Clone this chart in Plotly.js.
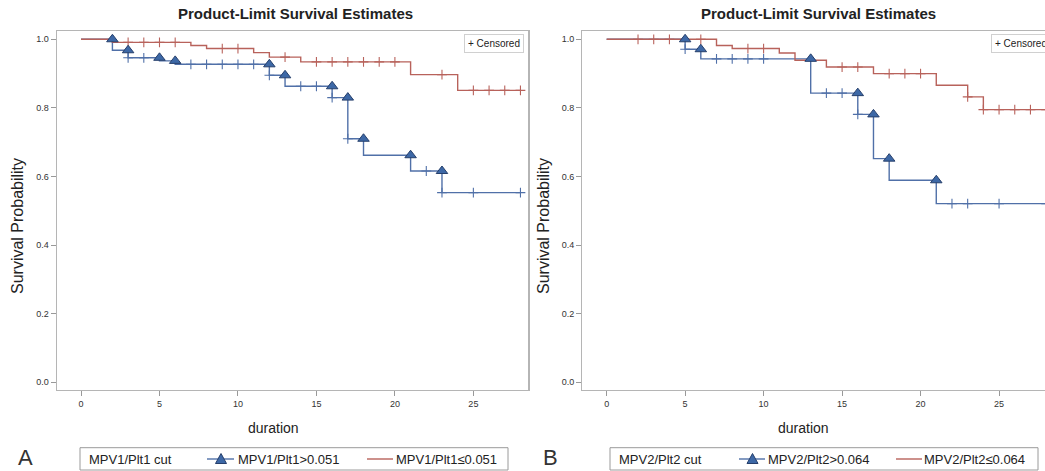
<!DOCTYPE html>
<html><head><meta charset="utf-8">
<script src="https://cdn.plot.ly/plotly-3.0.1.min.js"></script>
<style>html,body{margin:0;padding:0;overflow:hidden;background:#fff}#chart{width:1060px;height:471px}</style>
</head><body><div id="chart"></div>
<script>
// ---------- Panel A : MPV1/Plt1 ----------
const aHighTimes  = [0, 2, 3, 5, 6, 12, 13, 16, 17, 18, 21, 23];
const aHighSurv   = [1.0, 0.968, 0.946, 0.937, 0.927, 0.895, 0.863, 0.830, 0.710, 0.662, 0.616, 0.553];
const aHighCensor = [3, 4, 7, 8, 9, 10, 11, 12, 14, 15, 16, 17, 22, 23, 25, 28];
const aLowTimes   = [0, 2, 7, 8, 11, 12, 14, 21, 24];
const aLowSurv    = [1.0, 0.991, 0.982, 0.973, 0.961, 0.948, 0.934, 0.897, 0.851];
const aLowCensor  = [3, 4, 5, 6, 9, 10, 13, 15, 16, 17, 18, 19, 20, 23, 25, 26, 27, 28];
// ---------- Panel B : MPV2/Plt2 ----------
const bHighTimes  = [0, 5, 6, 13, 16, 17, 18, 21];
const bHighSurv   = [1.0, 0.971, 0.943, 0.843, 0.781, 0.652, 0.589, 0.521];
const bHighCensor = [5, 7, 8, 9, 10, 14, 15, 16, 22, 23, 25, 28];
const bLowTimes   = [0, 7, 8, 11, 12, 14, 17, 21, 23, 24];
const bLowSurv    = [1.0, 0.982, 0.973, 0.960, 0.939, 0.919, 0.900, 0.866, 0.832, 0.795];
const bLowCensor  = [2, 3, 4, 6, 9, 10, 15, 16, 18, 19, 20, 23, 24, 25, 26, 27, 28];
const followUpEnd = 28;

const panelTitle = 'Product-Limit Survival Estimates';
const yTitle = 'Survival Probability';
const xTitle = 'duration';
const aNames = ['MPV1/Plt1>0.051', 'MPV1/Plt1\u22640.051', 'MPV1/Plt1 cut'];
const bNames = ['MPV2/Plt2>0.064', 'MPV2/Plt2\u22640.064', 'MPV2/Plt2 cut'];

const BLUE = '#5070a8', RED = '#b8625b', TRI = '#3d68a6', TRIEDGE = '#263f6b';
const FONT = 'Liberation Sans, Arial, sans-serif';

function survAt(times, surv, t) {
  let v = surv[0];
  for (let i = 0; i < times.length; i++) if (times[i] <= t) v = surv[i];
  return v;
}
function curveTraces(times, surv, censor, color, xa, ya, withTri) {
  const out = [];
  out.push({x: times.concat([followUpEnd]), y: surv.concat([surv[surv.length-1]]),
    xaxis: xa, yaxis: ya, mode: 'lines', line: {color: color, width: 1.4, shape: 'hv'},
    showlegend: false, hoverinfo: 'skip'});
  out.push({x: censor, y: censor.map(t => survAt(times, surv, t)), xaxis: xa, yaxis: ya,
    mode: 'markers', marker: {symbol: 'cross-thin', size: 7, line: {color: color, width: 1.1}},
    showlegend: false, hoverinfo: 'skip'});
  if (withTri) {
    out.push({x: times.slice(1), y: surv.slice(0, -1), xaxis: xa, yaxis: ya, mode: 'markers',
      marker: {symbol: 'triangle-up', size: 10, color: TRI, line: {color: TRIEDGE, width: 1}},
      showlegend: false, hoverinfo: 'skip'});
  }
  return out;
}

const A1 = curveTraces(aHighTimes, aHighSurv, aHighCensor, BLUE, 'x', 'y', true);
const A2 = curveTraces(aLowTimes, aLowSurv, aLowCensor, RED, 'x', 'y', false);
const B1 = curveTraces(bHighTimes, bHighSurv, bHighCensor, BLUE, 'x2', 'y2', true);
const B2 = curveTraces(bLowTimes, bLowSurv, bLowCensor, RED, 'x2', 'y2', false);
const data = [A1[0], A2[0], A1[1], A2[1], A1[2], B1[0], B2[0], B1[1], B2[1], B1[2]];

const W = 1060, H = 471;
const px = v => v / W, py = v => 1 - v / H;
const yDom = [py(390), py(30.7)];
function xAxis(dom) {
  return {domain: dom, range: [-1.55, 28.5], tick0: 0, dtick: 5, ticks: 'outside', ticklen: 5,
    tickcolor: '#999', tickfont: {size: 9, color: '#333', family: FONT}, showgrid: false, zeroline: false,
    showline: true, mirror: true, linecolor: '#b5b5b5', linewidth: 1.2, fixedrange: true};
}
function yAxis(anchor) {
  return {domain: yDom, anchor: anchor, range: [-0.0224, 1.025], tick0: 0, dtick: 0.2, tickformat: '.1f',
    ticks: 'outside', ticklen: 5, tickcolor: '#999', tickfont: {size: 9, color: '#333', family: FONT},
    showgrid: false, zeroline: false, showline: true, mirror: true, linecolor: '#b5b5b5', linewidth: 1.2, fixedrange: true};
}
const ann = [], shapes = [];
function txt(text, x, y, opts) {
  return Object.assign({text: text, x: px(x), y: py(y), xref: 'paper', yref: 'paper', showarrow: false,
    xanchor: 'center', yanchor: 'middle'}, opts);
}
function panelAnn(titleX, yTitleX, xTitleX, censX, letter, letterX) {
  ann.push(txt(panelTitle, titleX, 14, {font: {size: 15, color: '#222', family: FONT, weight: 'bold'}}));
  ann.push(txt(yTitle, yTitleX, 226, {textangle: -90, font: {size: 16, color: '#222', family: FONT}}));
  ann.push(txt(xTitle, xTitleX, 428, {font: {size: 14, color: '#222', family: FONT}}));
  ann.push(txt('+ Censored', censX, 44, {xanchor: 'left', bgcolor: '#fff', bordercolor: '#d0d0d0',
    borderwidth: 1, borderpad: 3, font: {size: 10, color: '#222', family: FONT}}));
  ann.push(txt(letter, letterX, 457, {font: {size: 22, color: '#333', family: FONT}}));
}
// manual legend rows (decoration, positioned in page pixels)
function legendRow(o, names, lineA, triX, textA, lineB, textB) {
  const yc = 459;
  shapes.push({type: 'rect', xref: 'paper', yref: 'paper', x0: px(o + 80), x1: px(o + 508),
    y0: py(447.7), y1: py(470), line: {color: '#9a9a9a', width: 1}, fillcolor: '#fff', layer: 'above'});
  ann.push(txt(names[2], o + 87, yc, {xanchor: 'left', font: {size: 13, color: '#222', family: FONT}}));
  shapes.push({type: 'line', xref: 'paper', yref: 'paper', x0: px(lineA[0]), x1: px(lineA[1]),
    y0: py(yc), y1: py(yc), line: {color: BLUE, width: 1.4}});
  const t = [[triX - 5.5, yc + 4.5], [triX + 5.5, yc + 4.5], [triX, yc - 5.5]]
    .map(p => px(p[0]) + ',' + py(p[1]));
  shapes.push({type: 'path', xref: 'paper', yref: 'paper', path: 'M' + t[0] + 'L' + t[1] + 'L' + t[2] + 'Z',
    fillcolor: TRI, line: {color: TRIEDGE, width: 1}});
  ann.push(txt(names[0], textA, yc, {xanchor: 'left', font: {size: 13, color: '#222', family: FONT}}));
  shapes.push({type: 'line', xref: 'paper', yref: 'paper', x0: px(lineB[0]), x1: px(lineB[1]),
    y0: py(yc), y1: py(yc), line: {color: RED, width: 1.4}});
  ann.push(txt(names[1], textB, yc, {xanchor: 'left', font: {size: 13, color: '#222', family: FONT}}));
}
panelAnn(295, 17, 273, 464, 'A', 25.5);
panelAnn(818, 543, 803, 991, 'B', 550);
legendRow(0, aNames, [207, 234], 221, 236, [367, 393], 394);
legendRow(530, bNames, [739, 765], 752.5, 766, [896, 922], 922);

const layout = {
  width: W, height: H, margin: {l: 0, r: 0, t: 0, b: 0}, paper_bgcolor: '#fff', plot_bgcolor: '#fff',
  font: {family: FONT}, showlegend: false,
  xaxis: xAxis([px(56.7), px(528.3)]), yaxis: yAxis('x'),
  xaxis2: xAxis([px(582.3), px(1054)]), yaxis2: yAxis('x2'),
  annotations: ann, shapes: shapes
};
Plotly.newPlot('chart', data, layout, {displayModeBar: false, staticPlot: true});
</script></body></html>
